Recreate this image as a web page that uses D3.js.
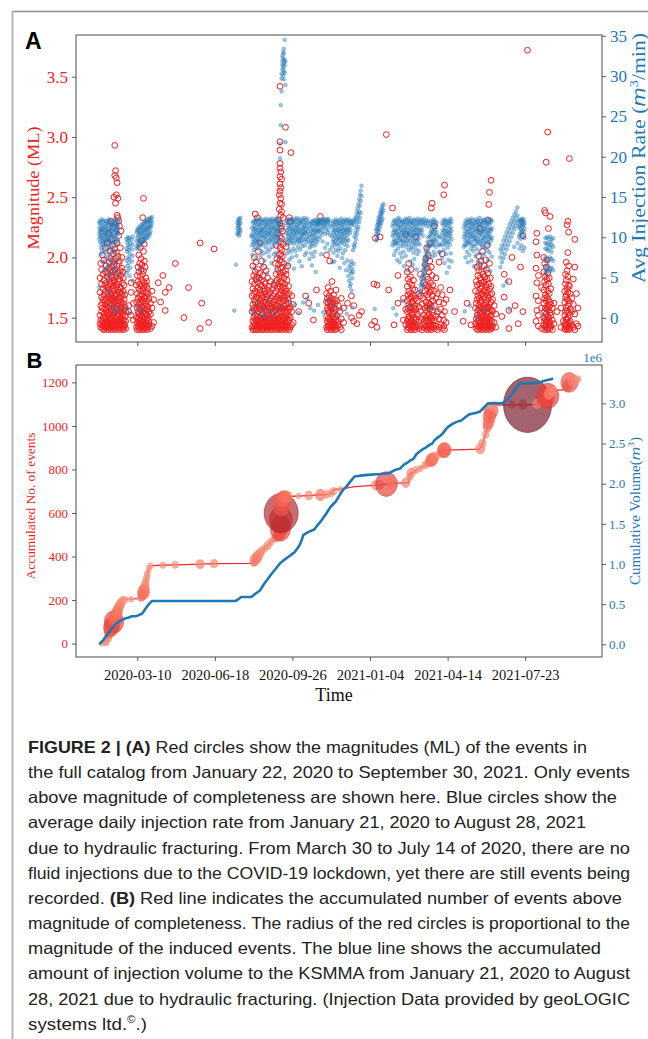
<!doctype html>
<html>
<head>
<meta charset="utf-8">
<style>
  body { margin: 0; background: #fff; }
</style>
</head>
<body>

<div id="container"></div>

<script src="https://cdn.jsdelivr.net/npm/d3@7"></script>
<script type="text/javascript">

    // ---- data (days are counted from 2020-01-01) ----
    var tickDates = ["2020-03-10", "2020-06-18", "2020-09-26", "2021-01-04", "2021-04-14", "2021-07-23"];
    var magTicks = [1.5, 2.0, 2.5, 3.0, 3.5];
    var rateTicks = [0, 5, 10, 15, 20, 25, 30, 35];
    var countTicks = [0, 200, 400, 600, 800, 1000, 1200];
    var volumeTicks = [0, 0.5, 1.0, 1.5, 2.0, 2.5, 3.0];

    // red circles, panel A: [day, [magnitudes]]
    var events = [
        [21,[1.45,1.52,1.71,1.83]],[22,[1.42,1.48,1.60,1.95]],[23,[1.44,1.55,1.67,1.78,1.90]],
        [24,[1.41,1.47,1.58,1.62,2.02]],[25,[1.43,1.50,1.65,1.74,1.86]],[26,[1.40,1.46,1.53,1.69,1.81,1.98]],
        [27,[1.42,1.49,1.57,1.64,1.77]],[28,[1.44,1.51,1.61,1.72,1.88,2.08]],[29,[1.41,1.46,1.56,1.66,1.79,1.93]],
        [30,[1.43,1.48,1.54,1.63,1.75,1.84,2.12]],[31,[1.40,1.45,1.52,1.59,1.70,1.87]],
        [32,[1.42,1.47,1.58,1.68,1.76,1.91,2.20]],[33,[1.44,1.50,1.55,1.62,1.73,1.82,1.96]],
        [34,[1.41,1.46,1.53,1.60,1.67,1.78,1.89,2.05]],[35,[1.43,1.49,1.57,1.65,1.71,1.85,1.99,2.30]],
        [36,[1.40,1.45,1.51,1.61,1.69,1.80,1.92,2.15]],[37,[1.42,1.48,1.56,1.64,1.74,1.83,1.97,2.10]],
        [38,[1.44,1.52,1.59,1.66,1.77,1.88,2.03,2.25]],[39,[1.41,1.47,1.54,1.63,1.72,1.81,1.94,2.50]],
        [40,[1.43,1.50,1.58,1.68,1.79,1.90,2.07,2.68,2.93]],[41,[1.40,1.46,1.55,1.62,1.70,1.86,1.99,2.45,2.72]],
        [42,[1.42,1.49,1.57,1.65,1.76,1.84,2.04,2.52,2.66]],[43,[1.44,1.51,1.60,1.69,1.78,1.93,2.12,2.62,2.35]],
        [44,[1.41,1.47,1.53,1.64,1.73,1.87,2.01,2.33,2.49]],[45,[1.43,1.48,1.56,1.67,1.80,1.95,2.18,2.30]],
        [46,[1.40,1.45,1.52,1.61,1.71,1.82,1.97,2.26]],[47,[1.42,1.50,1.58,1.66,1.75,1.89,2.08]],
        [48,[1.44,1.47,1.55,1.63,1.74,1.85,2.22]],[49,[1.41,1.46,1.54,1.60,1.70,1.91,2.00]],
        [50,[1.43,1.49,1.57,1.68,1.79,1.88]],[51,[1.40,1.45,1.53,1.62,1.72,1.83]],[52,[1.42,1.48,1.56,1.65,1.77]],
        [53,[1.44,1.51,1.59,1.69]],[54,[1.41,1.47,1.55]],[58,[1.55,1.60]],[61,[1.79,1.71,1.52]],[64,[1.48,1.62]],
        [68,[1.42,1.50,1.63,1.77]],[69,[1.40,1.46,1.58,1.70,1.85]],[70,[1.43,1.49,1.55,1.66,1.80,1.92]],
        [71,[1.41,1.47,1.53,1.61,1.74,1.88,2.02]],[72,[1.44,1.50,1.57,1.68,1.78,1.95]],
        [73,[1.40,1.45,1.52,1.63,1.72,1.84,2.08]],[74,[1.42,1.48,1.56,1.65,1.76,1.90,1.99]],
        [75,[1.43,1.51,1.59,1.69,1.81,1.94,2.14]],[76,[1.41,1.46,1.54,1.62,1.73,1.86,2.33]],
        [77,[1.40,1.47,1.55,1.64,1.75,1.89,2.05,2.49]],[78,[1.42,1.49,1.58,1.67,1.79,1.97,2.11]],
        [79,[1.44,1.50,1.56,1.66,1.77,1.92]],[80,[1.41,1.46,1.53,1.61,1.71,1.83]],[81,[1.43,1.48,1.57,1.68,1.80,1.76]],
        [82,[1.40,1.45,1.52,1.64,1.74]],[83,[1.42,1.50,1.59,1.70]],[84,[1.44,1.47,1.55,1.66]],
        [86,[1.41,1.53,1.62]],[88,[1.43,1.58,1.72]],[90,[1.46,1.65]],
        [96,[1.79]],[99,[1.63]],[102,[1.85]],[105,[1.71,1.56]],[110,[1.75]],[118,[1.95]],[129,[1.50]],
        [135,[1.75]],[150,[2.12,1.41]],[152,[1.62]],[161,[1.46]],[168,[2.07]],
        [217,[1.42,1.55,1.68,1.80]],[218,[1.40,1.47,1.61,1.74,1.93]],[219,[1.43,1.50,1.58,1.70,1.85]],
        [220,[1.41,1.46,1.56,1.65,1.78,2.00]],[221,[1.44,1.52,1.63,1.72,1.88,2.36]],[222,[1.40,1.48,1.57,1.67,1.82,1.96]],
        [223,[1.42,1.49,1.59,1.71,1.84]],[224,[1.43,1.51,1.62,1.75,1.90,2.33]],[225,[1.41,1.46,1.55,1.66,1.79,2.05]],
        [226,[1.40,1.47,1.58,1.69,1.83]],[227,[1.44,1.50,1.60,1.73,1.87,2.12]],[228,[1.42,1.48,1.57,1.64,1.77]],
        [229,[1.43,1.52,1.61,1.70,1.81,1.97]],[230,[1.41,1.46,1.54,1.66,1.76]],[231,[1.40,1.49,1.59,1.68,1.85]],
        [232,[1.42,1.47,1.56,1.63,1.74,1.92]],[233,[1.44,1.51,1.60,1.72,1.80]],[234,[1.41,1.48,1.57,1.65,1.78]],
        [235,[1.43,1.50,1.62,1.70,1.89]],[236,[1.40,1.46,1.55,1.67]],[237,[1.42,1.49,1.58,1.73,1.83]],
        [238,[1.44,1.52,1.61,1.69]],[239,[1.41,1.47,1.56,1.64,1.76]],[240,[1.43,1.50,1.59,1.71]],
        [241,[1.40,1.48,1.57,1.66,1.80]],[242,[1.42,1.46,1.54,1.62]],[243,[1.44,1.51,1.60,1.74]],
        [244,[1.41,1.49,1.58,1.68]],[245,[1.43,1.47,1.55,1.63,1.77]],[246,[1.40,1.50,1.61,1.70]],
        [247,[1.42,1.48,1.56,1.65,1.79,1.95]],[248,[1.44,1.52,1.59,1.72,1.86,2.10]],[249,[1.41,1.46,1.57,1.67,1.81,1.99]],
        [250,[1.43,1.49,1.60,1.75,1.90,2.20]],[251,[1.40,1.47,1.54,1.64,1.78,1.94,2.31]],
        [252,[1.42,1.50,1.58,1.69,1.84,2.02,2.40,2.52]],
        [253,[1.41,1.48,1.56,1.66,1.76,1.87,1.98,2.08,2.18,2.28,2.45,2.55,2.61,2.67,2.74,2.78,2.89,2.96,3.42]],
        [254,[1.43,1.51,1.59,1.70,1.80,1.91,2.03,2.13,2.24,2.35,2.49,2.58,2.71]],
        [255,[1.40,1.46,1.55,1.63,1.73,1.85,1.96,2.06,2.16,2.26,2.38,2.44,2.65]],
        [256,[1.42,1.49,1.58,1.68,1.79,1.92,2.01,2.22]],[257,[1.44,1.47,1.57,1.65,1.75,1.88,2.11,2.33]],
        [258,[1.41,1.50,1.60,1.71,1.83,1.95]],[259,[1.43,1.48,1.56,1.67,1.78]],[260,[1.40,1.46,1.54,1.64,1.74,1.89,3.08]],
        [261,[1.42,1.51,1.61,1.72,1.86,2.09]],[262,[1.44,1.49,1.58,1.69,1.81]],[263,[1.41,1.47,1.55,1.66,1.93]],
        [264,[1.43,1.52,1.62,1.76]],[265,[1.40,1.48,1.57,1.70,2.33]],[266,[1.42,1.50,1.59,2.30]],
        [267,[2.87]],[268,[1.44,1.55,1.68]],[270,[1.46,1.61]],
        [277,[1.55]],[286,[1.68]],[290,[1.62]],[296,[1.48]],[300,[1.73]],[305,[2.34]],
        [313,[1.42,1.51,1.63,1.70,2.02]],[314,[1.40,1.47,1.58,1.66]],[315,[1.43,1.49,1.56,1.62,1.75]],
        [316,[1.41,1.46,1.54,1.68]],[317,[1.44,1.50,1.59,1.64,1.97]],[318,[1.42,1.48,1.55,1.61,1.72]],
        [319,[1.40,1.46,1.57,1.66]],[320,[1.43,1.51,1.60,1.80]],[321,[1.41,1.47,1.53,1.63]],
        [322,[1.44,1.49,1.58,1.69]],[323,[1.42,1.46,1.55,1.65]],[324,[1.40,1.50,1.62]],[325,[1.43,1.48,1.57,1.73]],
        [326,[1.41,1.52,1.64]],[328,[1.44,1.47,1.60]],[330,[1.42,1.55]],[332,[1.40,1.49,1.66]],[335,[1.46,1.58]],
        [340,[1.62]],[345,[1.50,1.68]],[348,[1.60,1.47]],[352,[1.45]],[355,[1.52]],[358,[1.55]],
        [371,[1.44]],[374,[1.78]],[375,[1.47]],[376,[2.16]],[378,[1.77,1.42]],[382,[2.17]],[390,[3.02]],
        [393,[1.73]],[398,[2.41]],[400,[1.44]],[405,[1.85,1.62]],[412,[1.48,1.66]],[415,[1.44,1.57,2.19]],
        [417,[1.40,1.47,1.55,1.64,1.76,1.88]],[418,[1.42,1.49,1.58,1.69,1.82]],[419,[1.44,1.51,1.61,1.72,1.95]],
        [420,[1.41,1.46,1.56,1.66,1.79]],[421,[1.43,1.50,1.59,1.70,1.84]],[422,[1.40,1.48,1.57,1.67,1.90]],
        [423,[1.42,1.47,1.54,1.63,1.77]],[424,[1.44,1.52,1.62,1.74]],[425,[1.41,1.49,1.58,1.68,1.81]],
        [426,[1.43,1.46,1.55,1.65]],[427,[1.40,1.50,1.60,1.73]],[428,[1.42,1.48,1.57,1.66,2.17]],
        [430,[1.44,1.53,1.64]],[432,[1.41,1.47,1.59,1.70]],[434,[1.43,1.55,1.68,1.86]],[436,[1.40,1.49,1.61]],
        [438,[1.42,1.52,1.66,1.79]],[440,[1.44,1.48,1.58,1.72,1.94]],[441,[1.41,1.50,1.63,1.77,1.99]],
        [442,[1.43,1.47,1.56,1.69,1.84,2.08]],[443,[1.40,1.51,1.60,1.74,1.91]],[444,[1.42,1.48,1.58,1.67,1.82,2.02]],
        [445,[1.44,1.53,1.62,1.76,1.88]],[446,[1.41,1.46,1.57,1.71,1.97]],[447,[1.43,1.50,1.61,1.79,2.12]],
        [448,[1.40,1.49,1.59,1.73,1.92,2.41]],[449,[1.42,1.47,1.55,1.68,1.85,2.45]],[450,[1.44,1.52,1.64,1.77]],
        [452,[1.41,1.48,1.60,1.72,2.26]],[454,[1.43,1.51,1.66,1.83]],[456,[1.40,1.55,1.70]],
        [458,[1.42,1.49,1.63,1.96]],[460,[1.44,1.57,1.75]],[462,[1.41,1.52,1.69,2.03]],[464,[1.43,1.48,1.62,2.52]],
        [465,[1.40,1.55,2.60]],[467,[1.46,1.65]],[472,[1.73]],[478,[1.55]],[489,[1.47]],[494,[1.62]],[499,[1.44]],
        [505,[1.45,1.58,1.72]],[506,[1.41,1.49,1.62,1.80]],[507,[1.43,1.52,1.65,1.77,1.92]],
        [508,[1.40,1.47,1.56,1.68,1.85]],[509,[1.42,1.50,1.60,1.71,1.89,2.01]],[510,[1.44,1.48,1.57,1.66,1.78,1.94]],
        [511,[1.41,1.46,1.54,1.63,1.74,1.83,2.24]],[512,[1.43,1.51,1.59,1.69,1.81,1.97]],
        [513,[1.40,1.47,1.55,1.64,1.76,1.88]],[514,[1.42,1.49,1.58,1.70,1.79,2.05]],[515,[1.44,1.52,1.61,1.72,1.86]],
        [516,[1.41,1.46,1.56,1.67,1.80,1.93]],[517,[1.43,1.50,1.60,1.73,1.84]],[518,[1.40,1.48,1.57,1.65,1.77,1.98]],
        [519,[1.42,1.47,1.54,1.62,1.75,1.90]],[520,[1.44,1.51,1.59,1.71,1.82,2.10]],[521,[1.41,1.49,1.58,1.68,1.87,2.31]],
        [522,[1.43,1.46,1.55,1.66,1.78,2.44]],[523,[1.40,1.50,1.61,1.74,1.95,2.54]],[524,[1.42,1.48,1.57,1.69,1.83]],
        [525,[1.44,1.52,1.63,1.76,2.64]],[526,[1.41,1.47,1.56,1.70]],[527,[1.43,1.55,1.65]],[529,[1.46,1.60]],
        [531,[1.42,1.53]],[539,[1.51]],[542,[1.86,1.67]],[548,[1.80,1.56,1.41]],[552,[2.00]],[556,[1.60]],
        [560,[1.45]],[563,[1.92]],[566,[1.55,2.18]],[572,[3.72]],
        [583,[1.47,1.68,1.91,2.13]],[584,[1.56,1.79,2.02,2.20]],[586,[1.43,1.52,1.64,1.85]],[590,[1.41,1.58,1.75]],
        [593,[1.44,1.50,1.62,1.73,1.88,2.00]],[594,[1.40,1.47,1.55,1.66,1.80,1.95,2.39]],
        [595,[1.42,1.49,1.58,1.69,1.84,2.37]],[596,[1.43,1.46,1.53,1.64,1.77,1.92,2.79]],
        [597,[1.41,1.48,1.57,1.67,1.82,1.98]],[598,[1.40,1.51,1.60,1.72,1.87,3.04]],
        [599,[1.42,1.47,1.56,1.65,1.78,2.24]],[600,[1.44,1.50,1.59,1.70,1.83]],[601,[1.41,1.46,1.54,1.63,2.34]],
        [602,[1.43,1.52,1.61,1.74]],[604,[1.40,1.48,1.58]],[606,[1.45,1.62]],[610,[1.55]],[615,[1.42,1.58]],
        [618,[1.47]],[620,[1.41,1.44,1.52,1.63,1.72]],[621,[1.40,1.46,1.55,1.67,1.78,1.86]],
        [622,[1.43,1.49,1.58,1.69,1.81,1.96]],[623,[1.41,1.48,1.56,1.65,1.74,1.89,2.27]],
        [624,[1.42,1.50,1.60,1.71,1.84,2.04,2.30]],[625,[1.40,1.46,1.54,1.64,1.77,1.93,2.21]],
        [626,[1.43,1.52,1.62,1.76,2.82]],[627,[1.41,1.47,1.57,1.70]],[629,[1.44,1.55,1.66]],
        [631,[1.42,1.61,1.82]],[633,[1.40,1.53,1.92,2.15]],[635,[1.45,1.70]],[637,[1.43,1.58]]
    ];

    // blue dots, panel A: [day, [avg injection rate m3/min]]
    var injection = [
        [20,[11.8,11.2,10.5,9.8,3.8]],[21,[12.0,10.8,10.1,9.4]],[22,[11.6,10.9,10.3,8.7,7.9]],[23,[12.2,11.0,9.9,9.1]],
        [24,[11.4,10.6,9.6,8.3,6.9]],[25,[11.9,11.1,10.2,9.3]],[26,[12.1,10.7,9.8,8.8,5.9]],[27,[11.3,10.4,9.5,8.1]],
        [28,[11.7,10.9,10.0,9.0,7.2]],[29,[12.0,11.2,10.3,9.4,6.2]],[30,[11.5,10.6,9.7,8.5]],[31,[11.8,10.8,9.9,7.6,4.8]],
        [32,[12.2,11.0,10.1,9.2,6.5]],[33,[11.6,10.5,9.6,8.0,3.2]],[34,[11.9,10.9,9.8,8.6,5.5]],[35,[12.1,11.3,10.4,9.0]],
        [36,[11.4,10.7,9.5,7.3]],[37,[11.7,10.2,9.3,6.7,1.5]],[38,[12.0,11.1,10.0,8.4]],[39,[11.5,10.6,9.7,5.8]],
        [40,[11.8,10.9,9.4,8.2,0.8]],[41,[12.3,11.2,10.3,6.1]],[42,[11.6,10.8,9.9,7.0]],[43,[12.0,11.4,10.5,9.2]],
        [44,[11.3,10.7,9.6,5.3]],[45,[11.9,10.4,1.0]],
        [55,[9.8,8.6,7.1,5.6]],[56,[9.4,8.2,6.4,1.2]],[57,[10.0,9.0,7.5,5.9]],[58,[9.6,8.4,6.8]],[59,[9.9,8.8,7.3,5.2]],
        [60,[9.2,7.9,6.2,0.6]],[62,[9.7,8.5,7.0]],[63,[10.1,9.1,7.7,4.6]],
        [68,[10.6,9.5,8.6]],[69,[10.9,9.9,8.9,1.4]],[70,[11.1,10.2,9.1]],[71,[10.7,9.6,8.7]],[72,[11.3,10.4,9.4,6.0]],
        [73,[11.0,10.0,9.0]],[74,[11.5,10.6,9.6]],[75,[11.2,10.3,9.3,0.9]],[76,[11.7,10.8,9.8]],[77,[11.4,10.5,9.5]],
        [78,[11.9,11.0,10.1]],[79,[11.6,10.7,9.7]],[80,[12.0,11.1,10.2]],[81,[11.8,10.9,9.9]],[82,[12.2,11.3,10.4]],
        [83,[11.9,11.0,10.0]],[84,[12.3,11.4,10.5]],[85,[12.0,11.2,10.3]],[86,[12.4,11.6,10.7]],[87,[12.1,11.3]],[88,[12.5,11.8]],
        [194,[0.9]],[196,[6.6]],[198,[11.8,11.1,10.4]],[199,[12.1,11.4,10.6]],[200,[12.3,11.6,10.8,10.2]],
        [201,[12.0,11.2,10.5]],[202,[12.4,11.7,10.9]],
        [216,[1.0,10.2]],[217,[11.2,10.1,9.0,7.8]],[218,[11.8,10.6,9.4,0.5]],[219,[12.0,11.0,9.8,8.4]],
        [220,[11.4,10.3,9.2,6.2]],[221,[11.9,10.8,9.6,8.8]],[222,[12.2,11.1,10.0,7.4]],[223,[11.6,10.5,9.3,1.8]],
        [224,[12.1,10.9,9.7,8.6]],[225,[11.7,10.4,9.5,4.9]],[226,[12.3,11.2,10.1,8.9]],[227,[11.5,10.6,9.1,0.3]],
        [228,[12.0,10.9,9.9,7.7]],[229,[11.8,10.7,9.4,8.3]],[230,[12.2,11.0,10.2,6.5]],[231,[11.4,10.3,9.0,1.1]],
        [232,[11.9,10.8,9.6,8.0]],[233,[12.1,11.1,10.0,7.1]],[234,[11.6,10.5,9.3,0.2]],[235,[12.3,11.3,10.1,8.7]],
        [236,[11.7,10.6,9.8,5.5]],[237,[12.0,10.9,9.5,8.2]],[238,[11.5,10.4,9.2,2.3]],[239,[12.2,11.2,10.3,7.6]],
        [240,[11.8,10.7,9.7,8.5]],[241,[12.1,11.0,9.9,0.8]],[242,[11.6,10.5,9.4,6.8]],[243,[12.3,11.3,10.2,8.8]],
        [244,[11.9,10.8,9.6,4.4]],[245,[12.0,11.1,10.0,7.9]],[246,[11.4,10.3,9.1]],[247,[12.2,11.0,9.8,0.4]],
        [248,[11.7,10.6,9.5,8.1]],[249,[12.4,11.2,10.1,5.9]],[250,[11.8,10.7,9.3]],[251,[12.1,11.0,9.9,7.3]],
        [252,[11.5,10.4,9.6,1.3]],[253,[12.0,10.8,19.8,21.6]],[254,[11.6,23.9,26.4]],[255,[28.1,29.7,30.3]],
        [256,[30.8,31.4,31.9,32.5]],[257,[30.1,31.1,32.2,33.0]],[258,[29.6,30.6,31.6,32.8,33.4]],
        [259,[30.4,31.3,32.0,34.5]],[260,[28.9,31.8,21.8]],[261,[11.8,10.5,9.7]],
        [262,[12.0,10.9,9.4,8.0]],[263,[11.5,10.3,9.1,6.6]],[264,[12.2,11.1,10.0,8.4]],[265,[11.7,10.6,9.6,7.2]],
        [266,[12.1,11.0,9.8,2.0]],[267,[11.4,10.4,9.3,8.2]],[268,[12.3,11.2,10.1,7.5]],[269,[11.8,10.7,9.5]],
        [270,[12.0,10.9,9.9,8.6]],[271,[11.6,10.5,9.2,6.1]],[272,[12.2,11.1,10.2,1.6]],[273,[11.9,10.8,9.7,8.3]],
        [274,[12.4,11.3,10.3,7.7]],[275,[11.5,10.6,9.4]],[276,[12.1,11.0,9.8,8.8]],[277,[11.7,10.7,9.6,0.6]],
        [278,[12.3,11.2,10.0,7.0]],[279,[11.8,10.5,9.3,8.5]],[280,[12.0,10.9,9.9]],[281,[11.6,10.4,9.5,6.4]],
        [282,[12.2,11.1,10.2,8.9]],[283,[11.9,10.8,9.7,1.9]],[284,[12.4,11.3,10.4]],[285,[11.5,10.6,9.0,7.8]],
        [286,[12.1,11.0,9.8]],[287,[11.7,10.5,9.4,8.1]],[288,[12.3,11.2,10.1,2.4]],[289,[11.8,10.7,9.6]],
        [291,[11.2,10.0,8.7,7.3]],[292,[11.6,10.4,9.2,1.2]],[293,[11.9,10.8,9.5,8.0]],[294,[11.4,10.2,8.9,6.5]],
        [295,[12.0,10.9,9.7]],[296,[11.7,10.5,9.3,7.6]],[297,[12.1,11.0,9.9,0.9]],[298,[11.5,10.3,9.0,8.2]],
        [299,[11.8,10.7,9.6,5.7]],[300,[12.2,11.1,10.0]],[301,[11.9,11.5,10.6,9.4]],[302,[12.0,11.6,10.8,1.6]],
        [303,[12.1,11.7,10.9,9.8]],[305,[12.2,11.8,11.0,10.1]],[306,[11.9,11.4,10.5,7.9]],[308,[12.1,11.6,10.7,9.5]],
        [309,[12.3,11.9,11.2,0.7]],[311,[12.0,11.5,10.4,8.7]],[312,[12.2,11.8,11.1]],[314,[12.1,11.6,10.6,9.2]],
        [315,[12.3,11.9,10.9,2.2]],[317,[12.0,11.4,10.3,8.4]],
        [320,[11.3,10.1,8.8,6.9]],[321,[11.7,10.6,9.4,1.4]],[322,[12.0,10.9,9.7,8.1]],[323,[11.5,10.3,9.1,7.0]],
        [324,[11.9,10.8,9.5]],[325,[12.2,11.1,10.0,8.5]],[326,[11.6,10.5,9.2,0.3]],[327,[12.0,10.9,9.8,7.7]],
        [328,[11.4,10.2,9.0,8.3]],[329,[11.8,10.7,9.6]],[330,[12.1,11.0,9.9,6.2]],[331,[11.7,10.6,9.3,8.6]],
        [332,[12.3,11.2,10.1,1.1]],[333,[11.5,10.4,9.4,7.4]],[334,[11.9,10.8,9.7,8.0]],[335,[12.0,11.0,9.9]],
        [336,[11.6,10.5,9.1,6.8]],[337,[12.2,11.1,10.2,8.4]],[338,[11.8,10.7,9.5,5.9]],[339,[12.1,10.9,9.8,0.5]],
        [340,[11.4,10.3,8.9,7.1]],[341,[11.9,10.8,9.6,5.2]],[342,[12.2,11.1,6.3,4.6]],[343,[11.7,10.5,5.8,3.9]],
        [344,[12.0,10.9,6.6,4.2]],[345,[11.5,7.0,5.5,3.4]],[346,[11.8,6.1,4.9,1.3]],[347,[12.1,8.4,5.7]],
        [348,[11.6,9.0,6.7]],[349,[12.0,10.1,8.8]],[350,[12.3,10.6,9.3]],[351,[12.6,11.2,9.8]],[352,[13.1,11.8,10.4]],
        [353,[13.6,12.3,10.9]],[354,[14.1,12.8,11.3]],[355,[14.7,13.2,11.9]],[356,[15.3,13.9,12.4]],
        [357,[15.8,14.5,13.0]],[358,[16.4,15.1]],
        [375,[1.1]],[377,[11.0,10.4,9.6]],[378,[11.5,10.8,9.9]],[379,[11.9,11.2,10.3]],[380,[12.3,11.6,10.7]],
        [381,[12.6,11.9,11.0]],[382,[13.0,12.2,11.4]],[383,[13.3,12.6,11.7]],[384,[13.6,12.9,12.0]],
        [385,[13.9,13.1,12.3]],[386,[14.1,13.4]],
        [398,[11.4,10.2,9.0]],[399,[11.8,10.6,9.4,1.2]],[400,[12.1,10.9,9.7,7.8]],[401,[11.5,10.3,9.1]],
        [402,[12.0,10.8,9.5,8.3]],[403,[11.7,10.5,9.3,0.4]],[404,[12.2,11.0,9.9,7.2]],[405,[11.6,10.4,9.2,8.6]],
        [406,[12.4,11.3,10.1]],[407,[11.9,10.7,9.6,6.9]],[408,[12.1,11.1,9.8,8.0]],[409,[11.4,10.2,8.9]],
        [410,[11.8,10.6,9.4,7.5]],[411,[12.0,10.9,9.7,2.1]],[412,[11.5,10.3,9.0,8.2]],[413,[11.9,10.8,9.5,6.4]],
        [414,[12.2,11.1,10.0]],[415,[11.6,10.5,9.3,7.7]],[416,[12.3,11.2,10.2,8.8]],[417,[11.8,10.6,9.6,5.9]],
        [418,[12.1,10.9,9.8]],[419,[11.7,10.4,9.1,8.4]],[420,[12.4,11.3,10.3,1.4]],[421,[11.9,10.7,9.5,7.0]],
        [422,[12.0,11.0,9.9,8.6]],[423,[11.5,10.2,8.8]],[424,[11.8,10.6,9.4,6.6]],[425,[12.2,11.1,10.1,8.1]],
        [426,[11.6,10.5,9.2,7.3]],[427,[12.1,10.9,9.7]],[428,[11.4,10.3,9.0,8.5]],[429,[11.9,10.8,9.6,6.0]],
        [430,[12.3,11.2,10.2,7.9]],[431,[11.7,10.5,9.3]],[432,[12.0,10.9,9.8,8.3]],[433,[11.6,10.4,9.1,3.0]],
        [434,[12.2,11.0,4.1,3.3]],[435,[11.8,10.6,4.8,3.7]],[436,[12.1,10.9,5.2,4.2]],[437,[11.5,10.2,5.9,4.6]],
        [438,[11.9,6.5,5.4,4.0]],[439,[12.3,7.1,6.0,5.0]],[440,[11.7,7.6,6.6,5.5]],[441,[12.0,8.2,7.2,6.1]],
        [442,[11.4,8.8,7.7,6.7]],[443,[11.8,9.4,8.3,7.3]],[444,[12.1,10.0,8.9,7.9]],
        [446,[11.3,10.1,8.9]],[447,[11.7,10.5,9.2,1.3]],[448,[12.0,10.8,9.6]],[449,[11.5,10.3,9.0,7.6]],
        [450,[11.9,10.7,9.4]],[451,[12.2,11.0,9.8,8.2]],[452,[11.6,10.4,9.1]],[453,[12.0,10.9,9.7,7.8]],
        [454,[11.4,10.2,8.8]],[455,[11.8,10.6,9.5,0.9]],[458,[10.1,9.1,8.2]],[459,[10.0,9.0,8.1]],
        [462,[11.7,10.5,9.3,7.4]],[463,[12.1,10.9,9.8]],[464,[11.5,10.3,9.0,8.4]],[465,[11.9,10.8,9.6,6.8]],
        [466,[12.2,11.1,10.0]],[467,[11.6,10.4,9.2,7.9]],[468,[12.0,10.7,9.5,5.6]],[469,[11.4,10.2,8.7]],
        [470,[11.8,10.6,9.4,7.2]],[471,[12.1,11.0,9.9,6.3]],[472,[11.7,10.5,9.1]],[473,[12.3,11.2,10.2,8.0]],
        [474,[11.9,10.8,9.7,7.0]],
        [490,[11.2,10.0,8.8]],[491,[11.6,10.4,9.1,0.8]],[492,[12.0,10.8,9.6,7.5]],[493,[11.4,10.2,9.0]],
        [494,[11.8,10.6,9.4,8.2]],[495,[12.2,11.0,9.8,6.9]],[496,[11.5,10.3,9.2]],[497,[11.9,10.7,9.5,7.8]],
        [498,[12.1,11.1,10.0,1.5]],[499,[11.7,10.5,9.3,8.6]],[500,[12.3,11.2,10.1,7.1]],[501,[11.6,10.4,9.0]],
        [502,[12.0,10.9,9.7,8.3]],[503,[11.4,10.1,8.9,6.4]],[504,[11.8,10.7,9.6]],[505,[12.2,11.1,9.9,7.7]],
        [506,[11.5,10.3,9.1,0.3]],[507,[11.9,10.8,9.5,8.5]],[508,[12.1,11.0,9.8,7.0]],[509,[11.7,10.6,9.4]],
        [510,[12.4,11.3,10.2,8.0]],[511,[11.6,10.5,9.2,6.6]],[512,[12.0,10.9,9.7]],[513,[11.5,10.4,9.0,7.4]],
        [514,[11.9,10.8,9.6,8.7]],[515,[12.2,11.1,10.0]],[516,[11.8,10.6,9.3,7.9]],[517,[12.1,11.0,9.9,1.0]],
        [518,[11.4,10.2,8.8,6.2]],[519,[11.8,10.7,9.5]],[520,[12.3,11.2,10.1,8.4]],[521,[11.7,10.5,9.4,7.2]],
        [522,[12.0,10.9,9.8]],[523,[11.6,10.4,9.1,8.1]],[524,[12.2,11.0,10.0,5.8]],[525,[11.9,10.8,9.6]],
        [526,[12.1,11.1,9.9,7.6]],
        [537,[8.5,7.5,6.3]],[539,[9.0,8.1,6.9]],[541,[9.6,8.6,7.4,4.0]],[543,[10.1,9.1,7.9]],[545,[10.6,9.6,8.5,4.5]],
        [547,[11.1,10.1,9.0]],[549,[11.6,10.6,9.5,1.0]],[551,[12.0,11.1,10.0]],[553,[12.4,11.5,10.5]],
        [555,[12.8,11.9,11.0,8.8]],[557,[13.2,12.3,11.4]],[559,[13.7,12.7,11.8,9.3]],[561,[12.0,11.2,10.1]],
        [562,[12.2,11.4,10.4,8.6]],[563,[11.9,11.0,9.8]],[564,[12.1,11.5,10.6,9.0]],[565,[12.3,11.7,10.8]],
        [566,[12.0,11.3,10.2,8.3]],[567,[12.2,11.6,10.7]],[568,[11.8,11.1,9.9,8.7]],
        [593,[0.4]],[595,[9.9,9.3,8.6,7.4,6.3,5.7]],[597,[10.0,9.2,8.5,7.2,6.0,5.6]],[599,[9.8,9.0,8.3,7.0,6.4]],
        [601,[10.1,9.4,8.7,7.5,6.1,5.8]],[603,[9.7,9.1,8.2,7.3,6.2]],[605,[9.9,8.8,7.1,5.9]]
    ];

    // panel B, accumulated number of events: [day, count]
    var eventCount = [
        [21,0],[25,2],[29,5],[31,25],[33,50],[35,72],[37,85],[39,100],[41,125],[43,145],[45,165],[47,180],
        [49,192],[51,200],[55,203],[63,205],[70,207],[74,210],[76,225],[78,250],[80,285],[82,320],[84,345],
        [86,358],[100,360],[118,362],[150,365],[168,367],[218,369],[221,385],[224,400],[227,415],[230,428],
        [233,437],[237,450],[241,467],[245,480],[249,490],[252,500],[253,515],[254,560],[254.5,600],[255,640],
        [256,660],[258,672],[262,675],[270,677],[290,680],[305,683],[318,686],[320,698],[323,708],[335,712],
        [347,720],[376,728],[390,733],[405,737],[419,740],[420,765],[421,782],[430,800],[438,815],[444,830],
        [449,845],[455,862],[460,878],[464,889],[490,891],[510,893],[513,910],[516,940],[519,975],[522,1010],
        [525,1050],[527,1075],[529,1096],[572,1097],[584,1100],[590,1110],[597,1120],[601,1140],[605,1158],
        [611,1165],[622,1167],[625,1190],[627,1203],[632,1210],[638,1216]
    ];

    // panel B, event circles on the curve: [day, count, magnitude]
    var bubbles = [
        [24,2,1.62],[27,4,1.71],[29,6,1.9],[31,25,2.05],[33,48,2.3],[34,62,2.5],[35,72,2.68],[36,78,2.72],
        [37,86,2.66],[38,92,2.62],[39,100,2.93],[40,110,2.52],[41,124,2.49],[42,133,2.45],[43,145,2.35],
        [44,155,2.3],[45,166,2.26],[47,180,2.22],[49,192,2.1],[51,200,2.0],[54,202,1.79],[61,204,1.71],
        [73,209,1.9],[75,217,2.14],[76,226,2.33],[77,236,2.49],[78,250,2.34],[79,268,2.11],[80,285,2.02],
        [81,302,1.95],[82,320,1.92],[84,345,1.85],[86,358,1.76],
        [102,360,1.85],[118,362,1.95],[150,365,2.12],[168,367,2.07],
        [219,372,2.0],[221,385,2.36],[224,400,2.33],[227,415,2.12],[230,428,2.0],[233,437,1.92],[237,450,2.05],
        [241,467,1.95],[245,480,1.9],[248,487,2.1],[250,493,2.2],[252,500,2.4],[253,515,2.52],[253.5,525,2.96],
        [254,545,2.87],[254,570,3.08],[254.5,600,3.42],[255,630,2.78],[255.5,650,2.74],[256,662,2.61],
        [257,668,2.55],[259,673,2.45],[262,675,2.34],
        [277,678,1.8],[290,680,2.09],[305,683,2.34],[313,686,2.02],[319,690,1.9],[322,700,1.97],[331,708,1.8],
        [376,728,2.16],[382,730,2.17],[390,733,3.02],[398,736,2.41],[415,739,2.19],
        [420,765,2.0],[422,785,2.17],[428,797,1.95],[434,805,1.86],[440,820,1.99],[444,830,2.08],[447,838,2.12],
        [448,842,2.41],[449,846,2.45],[452,855,2.26],[458,870,1.96],[462,882,2.03],[464,888,2.52],[465,889,2.6],
        [511,895,2.24],[514,920,2.05],[518,960,1.98],[520,990,2.1],[521,1005,2.31],[522,1020,2.44],
        [523,1045,2.54],[525,1070,2.64],[527,1085,2.0],[529,1096,1.95],
        [552,1098,2.0],[566,1098,2.18],[572,1097,3.72],[584,1101,2.2],[594,1115,2.39],[595,1120,2.37],
        [596,1128,2.79],[598,1138,3.04],[599,1145,2.24],[601,1155,2.34],[605,1160,2.1],
        [623,1180,2.27],[624,1190,2.3],[626,1200,2.82],[629,1206,2.15],[633,1210,2.15],[637,1215,1.92]
    ];

    // panel B, cumulative injected volume (1e6 m3): [day, volume]
    var volume = [
        [20,0.0],[22,0.02],[25,0.05],[28,0.09],[31,0.13],[34,0.17],[38,0.22],[42,0.26],[46,0.29],[49,0.30],
        [53,0.32],[57,0.33],[62,0.35],[66,0.35],[70,0.36],[75,0.38],[78,0.42],[80,0.45],[84,0.50],[88,0.54],
        [196,0.54],[199,0.56],[203,0.59],[216,0.59],[220,0.62],[227,0.67],[233,0.76],[237,0.81],[240,0.85],
        [244,0.90],[249,0.96],[253,1.01],[257,1.04],[261,1.07],[264,1.09],[268,1.12],[272,1.15],[275,1.19],
        [278,1.23],[281,1.30],[283,1.36],[286,1.38],[290,1.40],[297,1.43],[302,1.49],[307,1.55],[312,1.62],
        [318,1.71],[322,1.75],[325,1.78],[330,1.86],[334,1.92],[339,1.97],[343,2.02],[349,2.09],[356,2.10],
        [366,2.11],[382,2.12],[393,2.13],[401,2.17],[408,2.19],[413,2.24],[417,2.26],[421,2.29],[425,2.31],
        [429,2.37],[433,2.40],[437,2.43],[441,2.45],[445,2.48],[449,2.50],[453,2.55],[457,2.58],[460,2.60],
        [463,2.63],[467,2.68],[470,2.71],[473,2.73],[476,2.75],[481,2.77],[487,2.79],[491,2.82],[496,2.86],
        [500,2.87],[505,2.88],[511,2.90],[516,2.95],[521,3.00],[539,3.00],[544,3.03],[549,3.08],[553,3.13],
        [557,3.19],[562,3.25],[575,3.25],[588,3.26],[593,3.28],[598,3.29],[602,3.30],[605,3.31]
    ];

    // caption: each line is a list of [text, style]
    var captionLines = [
        [["FIGURE 2 | (A)", "b"], [" Red circles show the magnitudes (ML) of the events in", ""]],
        [["the full catalog from January 22, 2020 to September 30, 2021. Only events", ""]],
        [["above magnitude of completeness are shown here. Blue circles show the", ""]],
        [["average daily injection rate from January 21, 2020 to August 28, 2021", ""]],
        [["due to hydraulic fracturing. From March 30 to July 14 of 2020, there are no", ""]],
        [["fluid injections due to the COVID-19 lockdown, yet there are still events being", ""]],
        [["recorded. ", ""], ["(B)", "b"], [" Red line indicates the accumulated number of events above", ""]],
        [["magnitude of completeness. The radius of the red circles is proportional to the", ""]],
        [["magnitude of the induced events. The blue line shows the accumulated", ""]],
        [["amount of injection volume to the KSMMA from January 21, 2020 to August", ""]],
        [["28, 2021 due to hydraulic fracturing. (Injection Data provided by geoLOGIC", ""]],
        [["systems ltd.", ""], ["\u00a9", "sup"], [".)", ""]]
    ];
    var captionWidths = [559, 602, 589, 558, 602, 602, 594, 602, 573, 602, 602, 119];

    // ---- drawing ----
    var serif = "'Liberation Serif','Times New Roman',Times,serif";
    var red = "#f21d1d", blue = "#1f77b4", spine = "#4a4a4a";

    var dayZero = new Date(2020, 0, 1);
    var parseDate = d3.timeParse("%Y-%m-%d");
    function toDate(day) {
        return new Date(dayZero.getTime() + day * 864e5);
    }

    var svg = d3.select("#container").append("svg")
        .attr("width", 648)
        .attr("height", 1039)
        .style("display", "block");

    // page frame
    svg.append("line").attr("x1", 12).attr("x2", 648).attr("y1", 11.5).attr("y2", 11.5)
        .attr("stroke", "#8c8c8c").attr("stroke-width", 1.5);
    svg.append("line").attr("x1", 12.5).attr("x2", 12.5).attr("y1", 11).attr("y2", 1039)
        .attr("stroke", "#b5b5b5").attr("stroke-width", 2);

    var left = 76, right = 602;
    var x = d3.scaleTime()
        .domain([new Date(2019, 11, 22), new Date(2021, 9, 30)])
        .range([left, right]);
    var tickValues = tickDates.map(parseDate);

    function styleAxis(g, color, size) {
        g.select(".domain").remove();
        g.attr("font-family", serif).attr("font-size", size);
        g.selectAll(".tick line").attr("stroke", spine).attr("stroke-width", 0.9);
        g.selectAll(".tick text").attr("fill", color);
    }

    function rotatedLabel(px, py, color, size, len, parts) {
        var t = svg.append("text")
            .attr("transform", "translate(" + px + "," + py + ") rotate(-90)")
            .attr("text-anchor", "middle")
            .attr("fill", color)
            .attr("font-family", serif)
            .attr("font-size", size)
            .attr("textLength", len)
            .attr("lengthAdjust", "spacingAndGlyphs");
        parts.forEach(function (p) {
            var s = t.append("tspan").text(p[0]);
            if (p[1] === "it") s.attr("font-style", "italic").attr("font-family", "'DejaVu Sans',sans-serif").attr("font-size", size * 0.92);
            if (p[1] === "sup") s.attr("dy", -size * 0.4).attr("font-size", size * 0.65);
            if (p[1] === "down") s.attr("dy", size * 0.4);
        });
    }

    // ---------- panel A ----------
    var aTop = 35, aBottom = 342;
    var yMag = d3.scaleLinear().domain([1.298, 3.846]).range([aBottom, aTop]);
    var yRate = d3.scaleLinear().domain([-3.0, 35.1]).range([aBottom, aTop]);

    svg.append("clipPath").attr("id", "clipA").append("rect")
        .attr("x", left).attr("y", aTop).attr("width", right - left).attr("height", aBottom - aTop);

    var eventPts = [];
    events.forEach(function (row) {
        row[1].forEach(function (m) { eventPts.push([row[0], m]); });
    });
    var ratePts = [];
    injection.forEach(function (row) {
        row[1].forEach(function (v) { ratePts.push([row[0], v]); });
    });

    var plotA = svg.append("g").attr("clip-path", "url(#clipA)");
    plotA.selectAll(".ev").data(eventPts).enter().append("circle")
        .attr("class", "ev")
        .attr("cx", function (d) { return x(toDate(d[0])); })
        .attr("cy", function (d) { return yMag(d[1]); })
        .attr("r", 2.9)
        .attr("fill", "none")
        .attr("stroke", red)
        .attr("stroke-width", 1);

    plotA.selectAll(".inj").data(ratePts).enter().append("circle")
        .attr("class", "inj")
        .attr("cx", function (d) { return x(toDate(d[0])); })
        .attr("cy", function (d) { return yRate(d[1]); })
        .attr("r", 1.9)
        .attr("fill", blue)
        .attr("fill-opacity", 0.42)
        .attr("stroke", blue)
        .attr("stroke-opacity", 0.5)
        .attr("stroke-width", 0.6);

    svg.append("rect").attr("x", left).attr("y", aTop).attr("width", right - left).attr("height", aBottom - aTop)
        .attr("fill", "none").attr("stroke", spine).attr("stroke-width", 1);

    svg.append("g").attr("transform", "translate(" + left + ",0)")
        .call(d3.axisLeft(yMag).tickValues(magTicks).tickFormat(d3.format(".1f")).tickSize(4).tickPadding(4))
        .call(styleAxis, red, 17);
    svg.append("g").attr("transform", "translate(" + right + ",0)")
        .call(d3.axisRight(yRate).tickValues(rateTicks).tickFormat(d3.format("d")).tickSize(4).tickPadding(4))
        .call(styleAxis, blue, 17);
    svg.append("g").attr("transform", "translate(0," + aBottom + ")")
        .call(d3.axisBottom(x).tickValues(tickValues).tickFormat("").tickSize(4))
        .call(styleAxis, "#000", 12);

    rotatedLabel(39, 188, red, 17, 123, [["Magnitude (ML)", ""]]);
    rotatedLabel(645, 158, blue, 18.5, 250,
        [["Avg Injection Rate (", ""], ["m", "it"], ["3", "sup"], ["/min)", "down"]]);

    svg.append("text").attr("x", 25).attr("y", 48.5)
        .attr("font-family", "'Liberation Sans',Arial,sans-serif").attr("font-weight", "bold")
        .attr("font-size", 23).text("A");

    // ---------- panel B ----------
    var bTop = 365, bBottom = 657;
    var yCount = d3.scaleLinear().domain([-61.6, 1280]).range([bBottom, bTop]);
    var yVol = d3.scaleLinear().domain([-0.158, 3.478]).range([bBottom, bTop]);

    svg.append("clipPath").attr("id", "clipB").append("rect")
        .attr("x", left).attr("y", bTop).attr("width", right - left).attr("height", bBottom - bTop);
    var plotB = svg.append("g").attr("clip-path", "url(#clipB)");

    var countLine = d3.line()
        .x(function (d) { return x(toDate(d[0])); })
        .y(function (d) { return yCount(d[1]); });
    plotB.append("path").datum(eventCount)
        .attr("d", countLine)
        .attr("fill", "none")
        .attr("stroke", "#f22a2a")
        .attr("stroke-width", 1.3);

    // colour by magnitude: salmon -> red -> maroon
    var bubbleColor = d3.scaleLinear()
        .domain([1.4, 2.5, 3.1, 3.75])
        .range(["#fcb39c", "#f66a58", "#e43838", "#731a2a"])
        .clamp(true);
    var bubbleR = function (m) { return 24 * Math.pow(10, (m - 3.72) / 2); };
    plotB.selectAll(".bub").data(bubbles).enter().append("ellipse")
        .attr("class", "bub")
        .attr("cx", function (d) { return x(toDate(d[0])); })
        .attr("cy", function (d) { return yCount(d[1]); })
        .attr("rx", function (d) { return Math.max(2.6, bubbleR(d[2])); })
        .attr("ry", function (d) { return Math.max(2.6, bubbleR(d[2])) * 1.15; })
        .attr("fill", function (d) { return bubbleColor(d[2]); })
        .attr("fill-opacity", 0.68)
        .attr("stroke", function (d) { return bubbleColor(d[2]); })
        .attr("stroke-opacity", 0.8)
        .attr("stroke-width", 0.8);

    var volLine = d3.line()
        .x(function (d) { return x(toDate(d[0])); })
        .y(function (d) { return yVol(d[1]); });
    plotB.append("path").datum(volume)
        .attr("d", volLine)
        .attr("fill", "none")
        .attr("stroke", blue)
        .attr("stroke-width", 2.6)
        .attr("stroke-linejoin", "round");

    svg.append("rect").attr("x", left).attr("y", bTop).attr("width", right - left).attr("height", bBottom - bTop)
        .attr("fill", "none").attr("stroke", spine).attr("stroke-width", 1);

    svg.append("g").attr("transform", "translate(" + left + ",0)")
        .call(d3.axisLeft(yCount).tickValues(countTicks).tickFormat(d3.format("d")).tickSize(4).tickPadding(4))
        .call(styleAxis, red, 13);
    svg.append("g").attr("transform", "translate(" + right + ",0)")
        .call(d3.axisRight(yVol).tickValues(volumeTicks).tickFormat(d3.format(".1f")).tickSize(4).tickPadding(3))
        .call(styleAxis, blue, 13);
    svg.append("g").attr("transform", "translate(0," + bBottom + ")")
        .call(d3.axisBottom(x).tickValues(tickValues).tickFormat(d3.timeFormat("%Y-%m-%d")).tickSize(4).tickPadding(9))
        .call(styleAxis, "#111", 14.5);

    svg.append("text").attr("x", right).attr("y", 362)
        .attr("text-anchor", "end").attr("fill", blue)
        .attr("font-family", serif).attr("font-size", 13).text("1e6");

    svg.append("text").attr("x", 334).attr("y", 701)
        .attr("text-anchor", "middle").attr("fill", "#111")
        .attr("font-family", serif).attr("font-size", 18).text("Time");

    rotatedLabel(34.5, 506, red, 13.5, 147, [["Accumulated No. of events", ""]]);
    rotatedLabel(640, 511, blue, 14, 148,
        [["Cumulative Volume(", ""], ["m", "it"], ["3", "sup"], [")", "down"]]);

    svg.append("text").attr("x", 26.5).attr("y", 368)
        .attr("font-family", "'Liberation Sans',Arial,sans-serif").attr("font-weight", "bold")
        .attr("font-size", 22).text("B");

    // ---------- caption ----------
    var caption = svg.append("g")
        .attr("font-family", "'Liberation Sans',Arial,Helvetica,sans-serif")
        .attr("font-size", 16.5)
        .attr("fill", "#222");
    captionLines.forEach(function (line, i) {
        var t = caption.append("text")
            .attr("x", 28)
            .attr("y", 753 + i * 25.15)
            .attr("textLength", captionWidths[i])
            .attr("lengthAdjust", "spacingAndGlyphs");
        line.forEach(function (part) {
            var s = t.append("tspan").text(part[0]);
            if (part[1] === "b") s.attr("font-weight", "bold");
            if (part[1] === "sup") s.attr("dy", -7).attr("font-size", 10);
            else if (part[0] === ".)") s.attr("dy", 7);
        });
    });

</script>
</body>
</html>
